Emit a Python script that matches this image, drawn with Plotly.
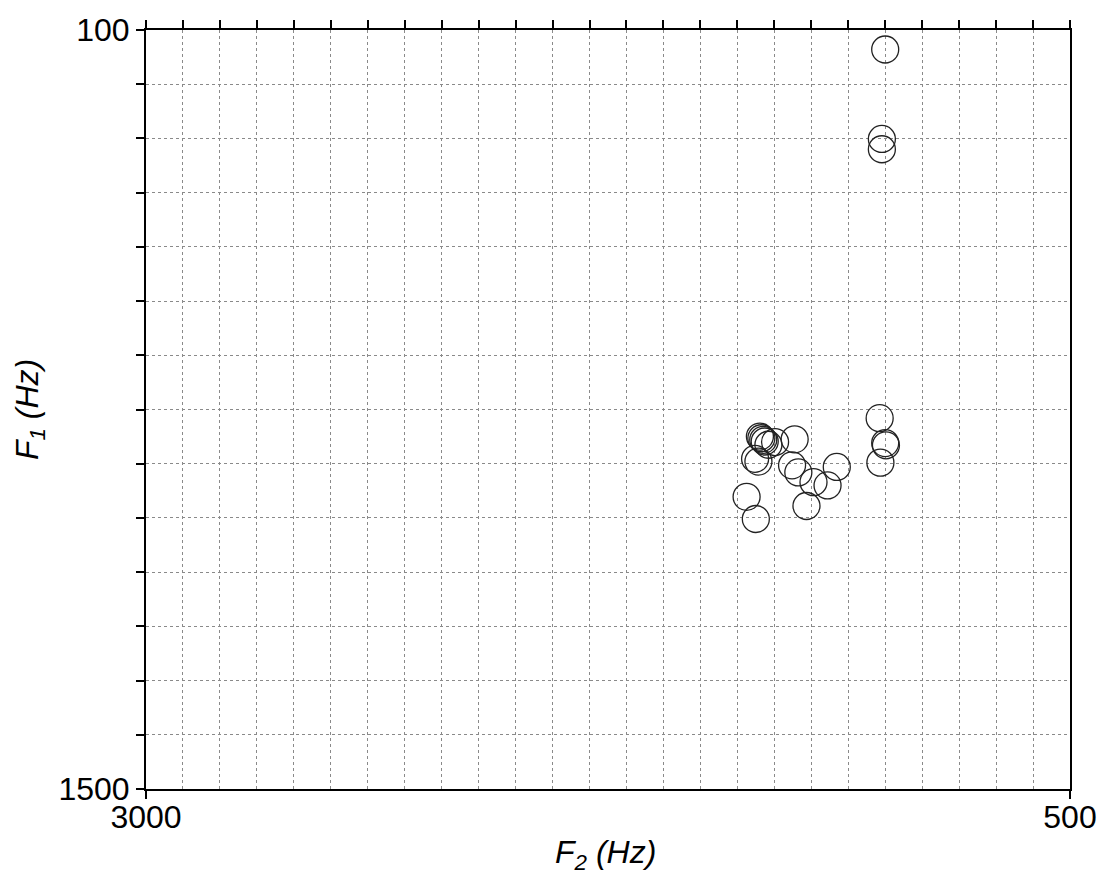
import plotly.graph_objects as go

# Vowel formant measurements (Hz)
f2_hz = [1000, 1009, 1009,
         1015, 1000, 998, 1013,
         1339, 1335, 1330, 1326, 1298, 1316, 1352, 1343,
         1245, 1252, 1235, 1194, 1131, 1156, 1213, 1375, 1350]
f1_hz = [136, 301, 320,
         816, 862, 866, 898,
         850, 853, 856, 859, 860, 865, 891, 896,
         855, 903, 916, 934, 906, 940, 978, 961, 1002]

x_range = [3000, 500]
y_range = [1500, 100]
x_label_vals = [3000, 500]
x_label_text = ["3000", "500"]
y_label_vals = [100, 1500]
y_label_text = ["100", "1500"]
x_grid_vals = list(range(500, 3001, 100))
y_grid_vals = list(range(100, 1501, 100))

FONT = "Liberation Sans, Arial, Helvetica, sans-serif"

fig = go.Figure()
fig.add_trace(go.Scatter(
    x=f2_hz, y=f1_hz, mode="markers",
    marker=dict(symbol="circle-open", size=27, color="#222",
                line=dict(width=1.3, color="#222")),
    showlegend=False, hoverinfo="x+y", xaxis="x", yaxis="y",
))
# helper trace so the tick/grid axes are drawn
fig.add_trace(go.Scatter(
    x=[x_range[0]], y=[y_range[0]], mode="markers",
    marker=dict(size=1, opacity=0), showlegend=False,
    hoverinfo="skip", xaxis="x2", yaxis="y2",
))

axis_common = dict(showline=True, linecolor="black", linewidth=2,
                   ticks="outside", ticklen=8, tickwidth=2, tickcolor="black",
                   zeroline=False, automargin=False)
grid_style = dict(showgrid=True, gridcolor="#8a8a8a", gridwidth=1,
                  griddash="dot")

fig.update_layout(
    width=1100, height=875,
    margin=dict(l=146, r=30, t=30, b=86),
    paper_bgcolor="white", plot_bgcolor="white",
    font=dict(family=FONT, size=32, color="black"),
    xaxis=dict(range=x_range, tickmode="array", tickvals=x_label_vals,
               ticktext=x_label_text, showgrid=False, side="bottom",
               tickfont=dict(size=32), ticklabelstandoff=-9, **axis_common),
    xaxis2=dict(range=x_range, overlaying="x", side="top", tickmode="array",
                tickvals=x_grid_vals, showticklabels=False,
                **grid_style, **axis_common),
    yaxis=dict(range=y_range, tickmode="array", tickvals=y_label_vals,
               ticktext=y_label_text, showgrid=False, mirror=True,
               tickfont=dict(size=32), **axis_common),
    yaxis2=dict(range=y_range, overlaying="y", side="left", tickmode="array",
                tickvals=y_grid_vals, showticklabels=False,
                **grid_style, **axis_common),
    annotations=[
        dict(text="<i>F<sub>2</sub> (Hz)</i>", xref="paper", yref="paper",
             x=0.497, y=-0.056, xanchor="center", yanchor="top",
             showarrow=False, font=dict(size=32, family=FONT)),
        dict(text="<i>F<sub>1</sub> (Hz)</i>", xref="paper", yref="paper",
             x=-0.126, y=0.5, xanchor="center", yanchor="middle",
             textangle=-90, showarrow=False, font=dict(size=32, family=FONT)),
    ],
)

fig.write_html("out.html",
               config={"displayModeBar": False},
               post_script="document.body.style.margin='0';"
                           "document.documentElement.style.overflow='hidden';")
